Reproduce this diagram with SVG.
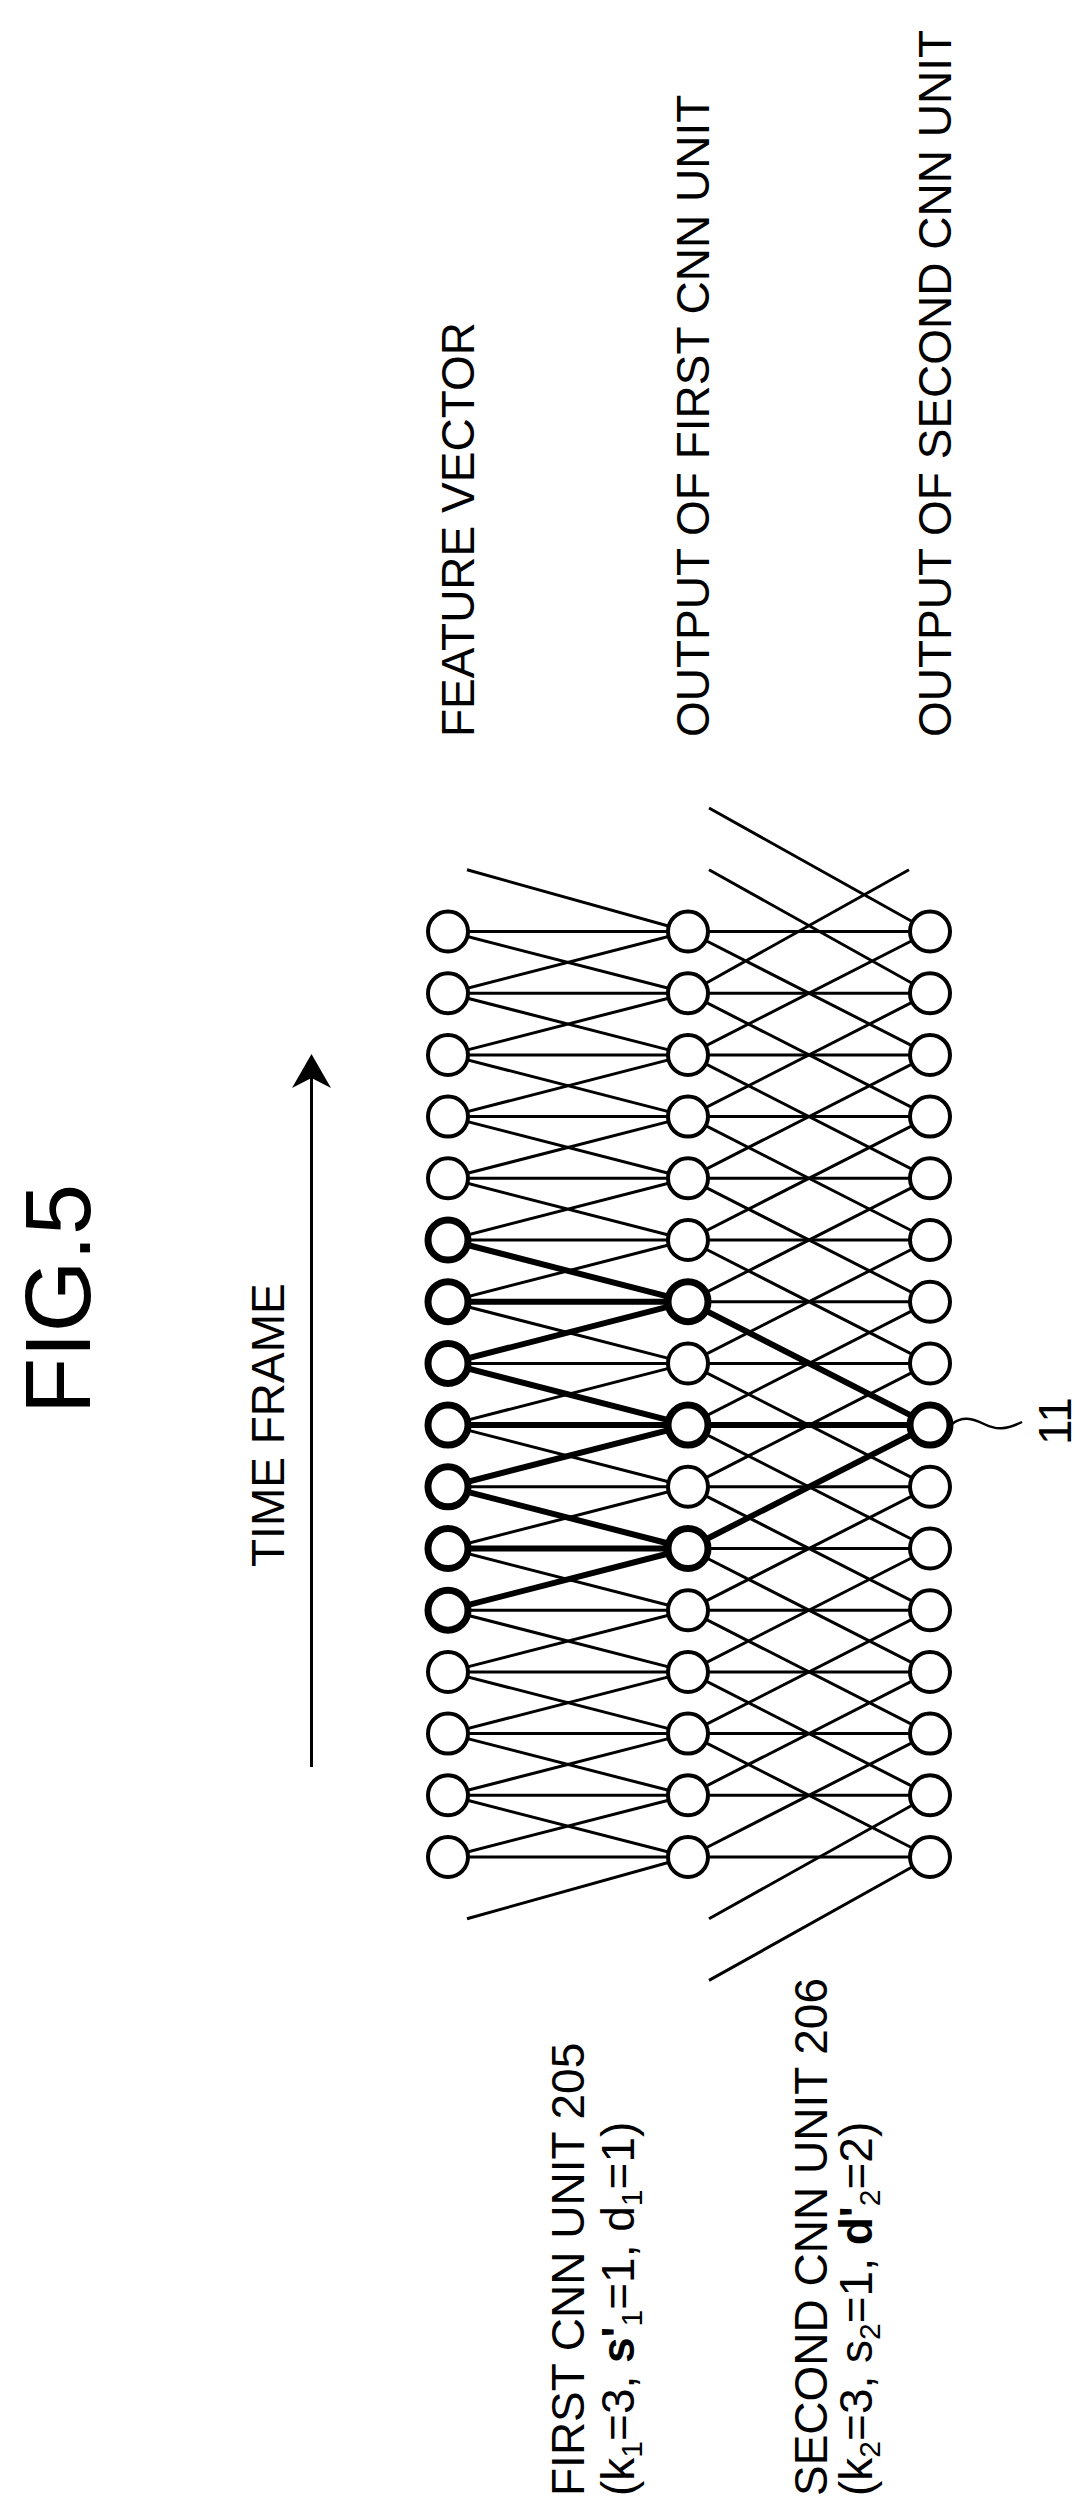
<svg xmlns="http://www.w3.org/2000/svg" width="1090" height="2517" viewBox="0 0 1090 2517">
<style>
text{font-family:"Liberation Sans",Arial,sans-serif;fill:#000}
.t{font-size:46px}
.sub{font-size:30px}
.e{stroke:#000;stroke-width:3;fill:none}
.eb{stroke:#000;stroke-width:6;fill:none}
circle{fill:#fff;stroke:#000;stroke-width:4}
circle.b{stroke-width:7}
</style>
<rect width="1090" height="2517" fill="#fff"/>
<text class="t" font-size="92" style="font-size:92px" transform="translate(90,1414) rotate(-90)">FIG.5</text>
<text class="t" transform="translate(284,1567) rotate(-90)">TIME FRAME</text>
<g id="arrow"><line class="e" x1="311.5" y1="1767" x2="311.5" y2="1075"/><polygon points="311.5,1054 292,1088 311.5,1078 331,1088" fill="#000"/></g>
<text class="t" transform="translate(474,737) rotate(-90)">FEATURE VECTOR</text>
<text class="t" transform="translate(709,737) rotate(-90)">OUTPUT OF FIRST CNN UNIT</text>
<text class="t" transform="translate(951,737) rotate(-90)">OUTPUT OF SECOND CNN UNIT</text>
<text class="t" transform="translate(584,2496) rotate(-90)">FIRST CNN UNIT 205</text>
<text class="t" transform="translate(634,2496) rotate(-90)">(k<tspan class="sub" dy="8">1</tspan><tspan dy="-8">=3, </tspan><tspan font-weight="bold">s'</tspan><tspan class="sub" dy="8">1</tspan><tspan dy="-8">=1, d</tspan><tspan class="sub" dy="8">1</tspan><tspan dy="-8">=1)</tspan></text>
<text class="t" transform="translate(827,2496) rotate(-90)">SECOND CNN UNIT 206</text>
<text class="t" transform="translate(872,2496) rotate(-90)">(k<tspan class="sub" dy="8">2</tspan><tspan dy="-8">=3, s</tspan><tspan class="sub" dy="8">2</tspan><tspan dy="-8">=1, </tspan><tspan font-weight="bold">d'</tspan><tspan class="sub" dy="8">2</tspan><tspan dy="-8">=2)</tspan></text>
<g id="label11"><path class="e" d="M952 1424c10-8 20-6 32 0s22 6 38-2" style="stroke-width:2.5"/><text class="t" transform="translate(1071,1445) rotate(-90)">11</text></g>
<g id="connectors">
<path class="e" d="M448 931.5H930M448 993.2H930M448 1054.9H930M448 1116.6H930M448 1178.3H930M448 1240H930M448 1301.7H930M448 1363.4H930M448 1425.1H930M448 1486.8H930M448 1548.5H930M448 1610.2H930M448 1671.9H930M448 1733.6H930M448 1795.3H930M448 1857H930"/>
<path class="e" d="M448 931.5L688 993.2M448 993.2L688 1054.9M448 1054.9L688 1116.6M448 1116.6L688 1178.3M448 1178.3L688 1240M448 1240L688 1301.7M448 1301.7L688 1363.4M448 1363.4L688 1425.1M448 1425.1L688 1486.8M448 1486.8L688 1548.5M448 1548.5L688 1610.2M448 1610.2L688 1671.9M448 1671.9L688 1733.6M448 1733.6L688 1795.3M448 1795.3L688 1857
M688 931.5L448 993.2M688 993.2L448 1054.9M688 1054.9L448 1116.6M688 1116.6L448 1178.3M688 1178.3L448 1240M688 1240L448 1301.7M688 1301.7L448 1363.4M688 1363.4L448 1425.1M688 1425.1L448 1486.8M688 1486.8L448 1548.5M688 1548.5L448 1610.2M688 1610.2L448 1671.9M688 1671.9L448 1733.6M688 1733.6L448 1795.3M688 1795.3L448 1857
M688 931.5L467 869.8M688 1857L467 1918.7"/>
<path class="e" d="M688 931.5L930 1054.9M688 993.2L930 1116.6M688 1054.9L930 1178.3M688 1116.6L930 1240M688 1178.3L930 1301.7M688 1240L930 1363.4M688 1301.7L930 1425.1M688 1363.4L930 1486.8M688 1425.1L930 1548.5M688 1486.8L930 1610.2M688 1548.5L930 1671.9M688 1610.2L930 1733.6M688 1671.9L930 1795.3M688 1733.6L930 1857
M930 931.5L688 1054.9M930 993.2L688 1116.6M930 1054.9L688 1178.3M930 1116.6L688 1240M930 1178.3L688 1301.7M930 1240L688 1363.4M930 1301.7L688 1425.1M930 1363.4L688 1486.8M930 1425.1L688 1548.5M930 1486.8L688 1610.2M930 1548.5L688 1671.9M930 1610.2L688 1733.6M930 1671.9L688 1795.3M930 1733.6L688 1857
M930 931.5L709 808M930 993.2L709 869.8M688 993.2L909 869.8M930 1795.3L709 1918.7M930 1857L709 1980.4"/>
<path class="eb" d="M448 1240L688 1301.7M448 1301.7H688M448 1363.4L688 1301.7M448 1363.4L688 1425.1M448 1425.1H688M448 1486.8L688 1425.1M448 1486.8L688 1548.5M448 1548.5H688M448 1610.2L688 1548.5M688 1301.7L930 1425.1M688 1425.1H930M688 1548.5L930 1425.1"/>
</g>
<g id="col1">
<g id="n1-0"><circle cx="448" cy="931.5" r="20"/></g><g id="n1-1"><circle cx="448" cy="993.2" r="20"/></g><g id="n1-2"><circle cx="448" cy="1054.9" r="20"/></g><g id="n1-3"><circle cx="448" cy="1116.6" r="20"/></g><g id="n1-4"><circle cx="448" cy="1178.3" r="20"/></g><g id="n1-5"><circle class="b" cx="448" cy="1240" r="20"/></g><g id="n1-6"><circle class="b" cx="448" cy="1301.7" r="20"/></g><g id="n1-7"><circle class="b" cx="448" cy="1363.4" r="20"/></g><g id="n1-8"><circle class="b" cx="448" cy="1425.1" r="20"/></g><g id="n1-9"><circle class="b" cx="448" cy="1486.8" r="20"/></g><g id="n1-10"><circle class="b" cx="448" cy="1548.5" r="20"/></g><g id="n1-11"><circle class="b" cx="448" cy="1610.2" r="20"/></g><g id="n1-12"><circle cx="448" cy="1671.9" r="20"/></g><g id="n1-13"><circle cx="448" cy="1733.6" r="20"/></g><g id="n1-14"><circle cx="448" cy="1795.3" r="20"/></g><g id="n1-15"><circle cx="448" cy="1857" r="20"/></g>
</g>
<g id="col2">
<g id="n2-0"><circle cx="688" cy="931.5" r="20"/></g><g id="n2-1"><circle cx="688" cy="993.2" r="20"/></g><g id="n2-2"><circle cx="688" cy="1054.9" r="20"/></g><g id="n2-3"><circle cx="688" cy="1116.6" r="20"/></g><g id="n2-4"><circle cx="688" cy="1178.3" r="20"/></g><g id="n2-5"><circle cx="688" cy="1240" r="20"/></g><g id="n2-6"><circle class="b" cx="688" cy="1301.7" r="20"/></g><g id="n2-7"><circle cx="688" cy="1363.4" r="20"/></g><g id="n2-8"><circle class="b" cx="688" cy="1425.1" r="20"/></g><g id="n2-9"><circle cx="688" cy="1486.8" r="20"/></g><g id="n2-10"><circle class="b" cx="688" cy="1548.5" r="20"/></g><g id="n2-11"><circle cx="688" cy="1610.2" r="20"/></g><g id="n2-12"><circle cx="688" cy="1671.9" r="20"/></g><g id="n2-13"><circle cx="688" cy="1733.6" r="20"/></g><g id="n2-14"><circle cx="688" cy="1795.3" r="20"/></g><g id="n2-15"><circle cx="688" cy="1857" r="20"/></g>
</g>
<g id="col3">
<g id="n3-0"><circle cx="930" cy="931.5" r="20"/></g><g id="n3-1"><circle cx="930" cy="993.2" r="20"/></g><g id="n3-2"><circle cx="930" cy="1054.9" r="20"/></g><g id="n3-3"><circle cx="930" cy="1116.6" r="20"/></g><g id="n3-4"><circle cx="930" cy="1178.3" r="20"/></g><g id="n3-5"><circle cx="930" cy="1240" r="20"/></g><g id="n3-6"><circle cx="930" cy="1301.7" r="20"/></g><g id="n3-7"><circle cx="930" cy="1363.4" r="20"/></g><g id="n3-8"><circle class="b" cx="930" cy="1425.1" r="20"/></g><g id="n3-9"><circle cx="930" cy="1486.8" r="20"/></g><g id="n3-10"><circle cx="930" cy="1548.5" r="20"/></g><g id="n3-11"><circle cx="930" cy="1610.2" r="20"/></g><g id="n3-12"><circle cx="930" cy="1671.9" r="20"/></g><g id="n3-13"><circle cx="930" cy="1733.6" r="20"/></g><g id="n3-14"><circle cx="930" cy="1795.3" r="20"/></g><g id="n3-15"><circle cx="930" cy="1857" r="20"/></g>
</g>
</svg>
